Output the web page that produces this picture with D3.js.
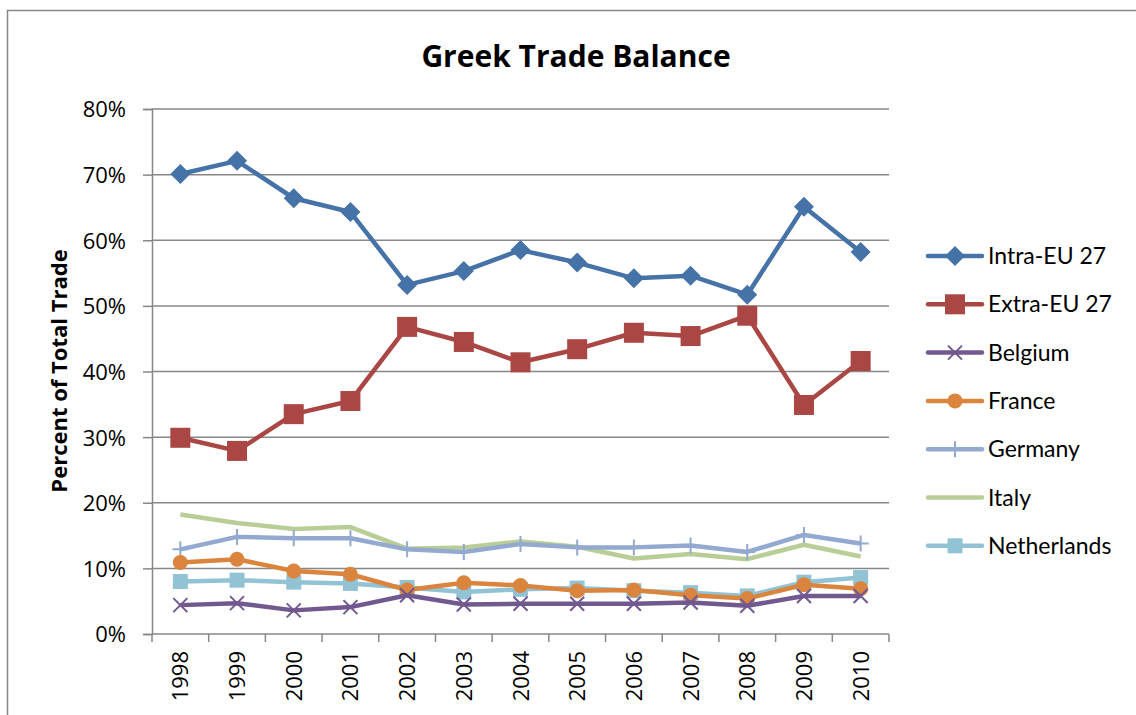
<!DOCTYPE html>
<html>
<head>
<meta charset="utf-8">
<script src="https://cdn.jsdelivr.net/npm/d3@7"></script>
<style>
  body { margin: 0; background: #fff; }
  svg { display: block; }
</style>
</head>
<body>
<div class="chart"></div>
<script>
// data (percent of total trade)
const years = ["1998","1999","2000","2001","2002","2003","2004","2005","2006","2007","2008","2009","2010"];
const intraEU = [70.1, 72.1, 66.4, 64.3, 53.2, 55.3, 58.5, 56.6, 54.2, 54.6, 51.7, 65.1, 58.2];
const extraEU = [29.9, 27.9, 33.5, 35.5, 46.8, 44.5, 41.4, 43.4, 45.9, 45.4, 48.5, 34.9, 41.6];
const belgium = [4.4, 4.7, 3.6, 4.1, 5.9, 4.5, 4.6, 4.6, 4.6, 4.8, 4.3, 5.8, 5.8];
const france = [10.9, 11.4, 9.6, 9.1, 6.7, 7.8, 7.4, 6.6, 6.7, 5.9, 5.4, 7.5, 6.9];
const germany = [12.9, 14.8, 14.6, 14.6, 12.9, 12.5, 13.7, 13.2, 13.2, 13.5, 12.5, 15.1, 13.8];
const italy = [18.2, 16.9, 16.0, 16.3, 13.0, 13.2, 14.1, 13.3, 11.5, 12.2, 11.4, 13.6, 11.8];
const netherlands = [8.0, 8.2, 7.9, 7.7, 7.1, 6.4, 6.8, 7.0, 6.6, 6.3, 5.8, 7.9, 8.6];
const yTicks = [0, 10, 20, 30, 40, 50, 60, 70, 80];

const series = [
  {name: "Intra-EU 27", values: intraEU, color: "#4572A7", marker: "diamond"},
  {name: "Extra-EU 27", values: extraEU, color: "#AA4643", marker: "bigsquare"},
  {name: "Belgium", values: belgium, color: "#71588F", marker: "cross"},
  {name: "France", values: france, color: "#DB843D", marker: "circle"},
  {name: "Germany", values: germany, color: "#93A9CF", marker: "plus"},
  {name: "Italy", values: italy, color: "#B9CD96", marker: "none"},
  {name: "Netherlands", values: netherlands, color: "#91C3D5", marker: "square"}
];

const W = 1136, H = 715;
const margin = {top: 109, right: 247, bottom: 81, left: 152};
const width = W - margin.left - margin.right;
const height = H - margin.top - margin.bottom;
const grey = "#878787";
const tickFont = "'Open Sans', sans-serif";

const root = d3.select(".chart").append("svg")
  .attr("width", W).attr("height", H);

// chart frame
root.append("rect")
  .attr("x", 7.5).attr("y", 10.5)
  .attr("width", W + 20).attr("height", H + 20)
  .attr("fill", "none").attr("stroke", grey).attr("stroke-width", 1.5);

root.append("text")
  .attr("x", 576).attr("y", 67)
  .attr("text-anchor", "middle")
  .style("font-family", "'Open Sans', sans-serif").style("font-weight", "bold")
  .style("font-size", "30px")
  .text("Greek Trade Balance");

root.append("text")
  .attr("transform", "translate(67,371) rotate(-90)")
  .attr("text-anchor", "middle")
  .style("font-family", "'Open Sans', sans-serif").style("font-weight", "bold")
  .style("font-size", "22px")
  .text("Percent of Total Trade");

const svg = root.append("g")
  .attr("transform", "translate(" + margin.left + "," + margin.top + ")");

const xScale = d3.scaleBand().domain(years).range([0, width]);
const yScale = d3.scaleLinear().domain([0, 80]).range([height, 0]);
const cx = d => xScale(d) + xScale.bandwidth() / 2;

// gridlines
svg.append("g").selectAll("line")
  .data(yTicks.filter(t => t > 0))
  .join("line")
  .attr("x1", 0).attr("x2", width)
  .attr("y1", d => yScale(d)).attr("y2", d => yScale(d))
  .attr("stroke", grey).attr("stroke-width", 1.5);

// y axis
const yAxis = d3.axisLeft(yScale)
  .tickValues(yTicks)
  .tickSize(9).tickPadding(17)
  .tickFormat(d => d + "%");
const yG = svg.append("g").call(yAxis);
yG.select(".domain").attr("stroke", grey).attr("stroke-width", 1.5);
yG.selectAll(".tick line").attr("stroke", grey).attr("stroke-width", 1.5);
yG.selectAll(".tick text")
  .style("font-family", tickFont).style("font-size", "22px")
  .attr("dy", "0.36em")
  .attr("fill", "#000");

// x axis: ticks between categories, labels rotated
const xG = svg.append("g").attr("transform", "translate(0," + height + ")");
xG.append("line").attr("x1", 0).attr("x2", width)
  .attr("stroke", grey).attr("stroke-width", 1.5);
const bounds = years.map(d => xScale(d)).concat([width]);
xG.selectAll(".xt").data(bounds).join("line")
  .attr("class", "xt")
  .attr("x1", d => d).attr("x2", d => d)
  .attr("y1", 0).attr("y2", 8)
  .attr("stroke", grey).attr("stroke-width", 1.5);
xG.selectAll(".xl").data(years).join("text")
  .attr("class", "xl")
  .attr("transform", d => "translate(" + (cx(d) + 8) + ",17) rotate(-90)")
  .attr("text-anchor", "end")
  .style("font-family", tickFont).style("font-size", "22px")
  .text(d => d);

function drawMarker(g, type, color) {
  if (type === "diamond") {
    g.append("path").attr("d", "M0,-10L10,0L0,10L-10,0Z").attr("fill", color);
  } else if (type === "bigsquare") {
    g.append("rect").attr("x", -10).attr("y", -10).attr("width", 20).attr("height", 20).attr("fill", color);
  } else if (type === "square") {
    g.append("rect").attr("x", -7.5).attr("y", -7.5).attr("width", 15).attr("height", 15).attr("fill", color);
  } else if (type === "circle") {
    g.append("circle").attr("r", 7.5).attr("fill", color);
  } else if (type === "cross") {
    g.append("path").attr("d", "M-7,-7L7,7M-7,7L7,-7")
      .attr("stroke", color).attr("stroke-width", 2).attr("fill", "none");
  } else if (type === "plus") {
    g.append("path").attr("d", "M0,-8L0,8M-8,0L8,0")
      .attr("stroke", color).attr("stroke-width", 2).attr("fill", "none");
  }
}

const line = d3.line()
  .x((d, i) => cx(years[i]))
  .y(d => yScale(d));

// draw in reverse so the EU series sit on top
series.slice().reverse().forEach(s => {
  const g = svg.append("g");
  g.append("path")
    .attr("d", line(s.values))
    .attr("fill", "none")
    .attr("stroke", s.color)
    .attr("stroke-width", 4.5)
    .attr("stroke-linejoin", "round");
  s.values.forEach((v, i) => {
    const m = g.append("g").attr("transform", "translate(" + cx(years[i]) + "," + yScale(v) + ")");
    drawMarker(m, s.marker, s.color);
  });
});

// legend
const legend = root.append("g").attr("transform", "translate(928,256)");
series.forEach((s, i) => {
  const item = legend.append("g").attr("transform", "translate(0," + (i * 48.3) + ")");
  item.append("line").attr("x1", 0).attr("x2", 54)
    .attr("stroke", s.color).attr("stroke-width", 4.5).attr("stroke-linecap", "round");
  const m = item.append("g").attr("transform", "translate(27,0)");
  drawMarker(m, s.marker, s.color);
  item.append("text").attr("x", 60).attr("y", 8)
    .style("font-family", "Lato, sans-serif").style("font-size", "23px")
    .text(s.name);
});
</script>
</body>
</html>
